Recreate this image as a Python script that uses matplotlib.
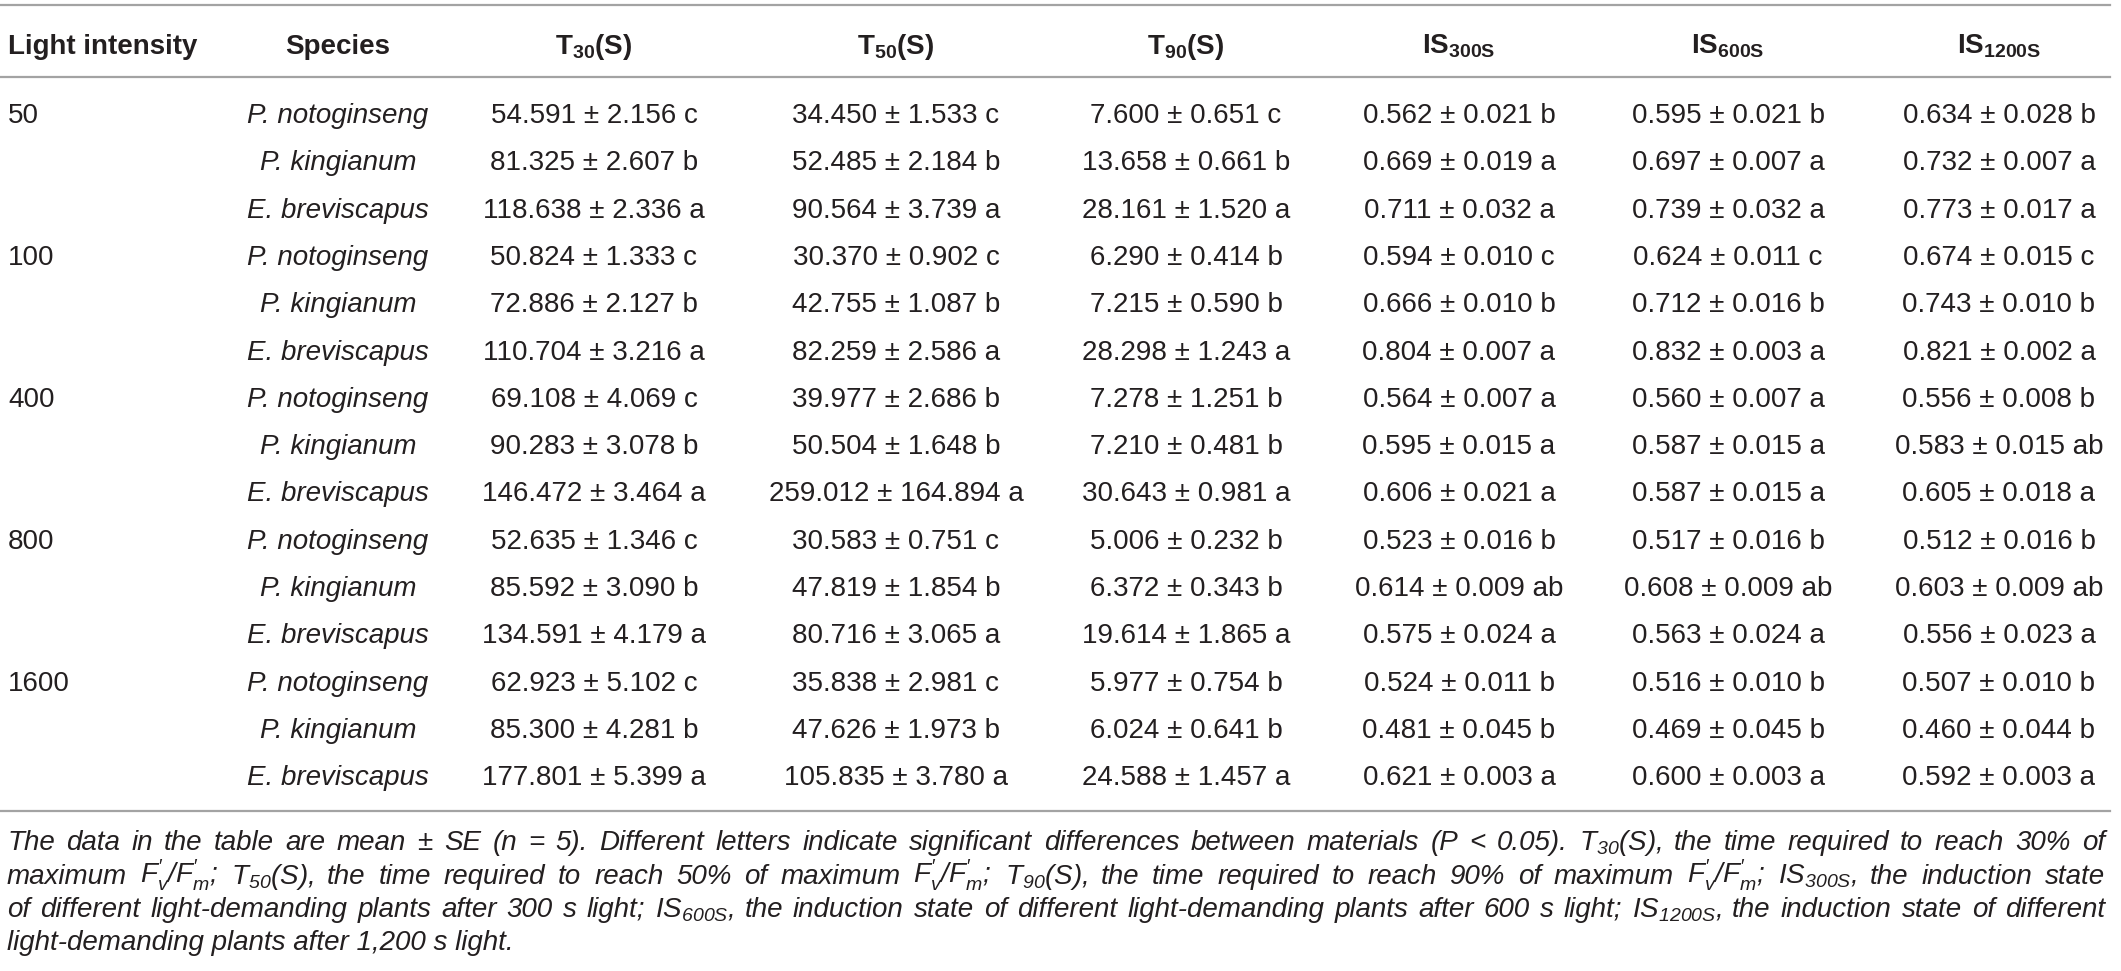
import matplotlib
matplotlib.use('Agg')
import matplotlib.pyplot as plt

plt.rcParams['font.family'] = ['Liberation Sans', 'DejaVu Sans']
plt.rcParams['mathtext.fontset'] = 'custom'
plt.rcParams['mathtext.rm'] = 'Liberation Sans'
plt.rcParams['mathtext.it'] = 'Liberation Sans:italic'
plt.rcParams['mathtext.bf'] = 'Liberation Sans:bold'
plt.rcParams['mathtext.default'] = 'regular'

# ---------------- data ----------------
headers = ['Light intensity', 'Species', 'T$_{30}$(S)', 'T$_{50}$(S)', 'T$_{90}$(S)',
           'IS$_{300S}$', 'IS$_{600S}$', 'IS$_{1200S}$']
light_levels = ['50', '100', '400', '800', '1600']
species = ['P. notoginseng', 'P. kingianum', 'E. breviscapus']

t30_mean = [54.591, 81.325, 118.638, 50.824, 72.886, 110.704, 69.108, 90.283, 146.472,
            52.635, 85.592, 134.591, 62.923, 85.300, 177.801]
t30_se = [2.156, 2.607, 2.336, 1.333, 2.127, 3.216, 4.069, 3.078, 3.464,
          1.346, 3.090, 4.179, 5.102, 4.281, 5.399]
t30_sig = ['c', 'b', 'a', 'c', 'b', 'a', 'c', 'b', 'a', 'c', 'b', 'a', 'c', 'b', 'a']

t50_mean = [34.450, 52.485, 90.564, 30.370, 42.755, 82.259, 39.977, 50.504, 259.012,
            30.583, 47.819, 80.716, 35.838, 47.626, 105.835]
t50_se = [1.533, 2.184, 3.739, 0.902, 1.087, 2.586, 2.686, 1.648, 164.894,
          0.751, 1.854, 3.065, 2.981, 1.973, 3.780]
t50_sig = ['c', 'b', 'a', 'c', 'b', 'a', 'b', 'b', 'a', 'c', 'b', 'a', 'c', 'b', 'a']

t90_mean = [7.600, 13.658, 28.161, 6.290, 7.215, 28.298, 7.278, 7.210, 30.643,
            5.006, 6.372, 19.614, 5.977, 6.024, 24.588]
t90_se = [0.651, 0.661, 1.520, 0.414, 0.590, 1.243, 1.251, 0.481, 0.981,
          0.232, 0.343, 1.865, 0.754, 0.641, 1.457]
t90_sig = ['c', 'b', 'a', 'b', 'b', 'a', 'b', 'b', 'a', 'b', 'b', 'a', 'b', 'b', 'a']

is300_mean = [0.562, 0.669, 0.711, 0.594, 0.666, 0.804, 0.564, 0.595, 0.606,
              0.523, 0.614, 0.575, 0.524, 0.481, 0.621]
is300_se = [0.021, 0.019, 0.032, 0.010, 0.010, 0.007, 0.007, 0.015, 0.021,
            0.016, 0.009, 0.024, 0.011, 0.045, 0.003]
is300_sig = ['b', 'a', 'a', 'c', 'b', 'a', 'a', 'a', 'a', 'b', 'ab', 'a', 'b', 'b', 'a']

is600_mean = [0.595, 0.697, 0.739, 0.624, 0.712, 0.832, 0.560, 0.587, 0.587,
              0.517, 0.608, 0.563, 0.516, 0.469, 0.600]
is600_se = [0.021, 0.007, 0.032, 0.011, 0.016, 0.003, 0.007, 0.015, 0.015,
            0.016, 0.009, 0.024, 0.010, 0.045, 0.003]
is600_sig = ['b', 'a', 'a', 'c', 'b', 'a', 'a', 'a', 'a', 'b', 'ab', 'a', 'b', 'b', 'a']

is1200_mean = [0.634, 0.732, 0.773, 0.674, 0.743, 0.821, 0.556, 0.583, 0.605,
               0.512, 0.603, 0.556, 0.507, 0.460, 0.592]
is1200_se = [0.028, 0.007, 0.017, 0.015, 0.010, 0.002, 0.008, 0.015, 0.018,
             0.016, 0.009, 0.023, 0.010, 0.044, 0.003]
is1200_sig = ['b', 'a', 'a', 'c', 'b', 'a', 'b', 'ab', 'a', 'b', 'ab', 'a', 'b', 'b', 'a']

footnote_lines = [
    "The data in the table are mean ± SE (n = 5). Different letters indicate significant differences between materials (P < 0.05). T$_{30}$(S), the time required to reach 30% of",
    "maximum $F_{v}^{\\prime}/F_{m}^{\\prime}$; T$_{50}$(S), the time required to reach 50% of maximum $F_{v}^{\\prime}/F_{m}^{\\prime}$; T$_{90}$(S), the time required to reach 90% of maximum $F_{v}^{\\prime}/F_{m}^{\\prime}$; IS$_{300S}$, the induction state",
    "of different light-demanding plants after 300 s light; IS$_{600S}$, the induction state of different light-demanding plants after 600 s light; IS$_{1200S}$, the induction state of different",
    "light-demanding plants after 1,200 s light.",
]

# ---------------- layout ----------------
W, H = 2121, 971
TXT = '#231f20'
RULE = '#a3a3a3'
fig = plt.figure(figsize=(W / 100, H / 100), dpi=100)
ax = fig.add_axes([0, 0, 1, 1])
ax.set_xlim(0, W)
ax.set_ylim(H, 0)
ax.axis('off')

col_x = [8, 338, 594, 896, 1186, 1459, 1728, 1999]
fs = 20
header_base = 54
row_base0 = 123
row_step = 47.3

for i, h in enumerate(headers):
    ha = 'left' if i == 0 else 'center'
    ax.text(col_x[i], header_base, h, ha=ha, va='baseline', fontsize=fs,
            fontweight='bold', color=TXT)

columns = [(t30_mean, t30_se, t30_sig), (t50_mean, t50_se, t50_sig),
           (t90_mean, t90_se, t90_sig), (is300_mean, is300_se, is300_sig),
           (is600_mean, is600_se, is600_sig), (is1200_mean, is1200_se, is1200_sig)]

n_sp = len(species)
for r in range(len(light_levels) * n_sp):
    yb = row_base0 + r * row_step
    if r % n_sp == 0:
        ax.text(col_x[0], yb, light_levels[r // n_sp], ha='left', va='baseline',
                fontsize=fs, color=TXT)
    ax.text(col_x[1], yb, species[r % n_sp], ha='center', va='baseline',
            fontsize=fs, style='italic', color=TXT)
    for c, (m, s, g) in enumerate(columns):
        ax.text(col_x[c + 2], yb, f"{m[r]:.3f} ± {s[r]:.3f} {g[r]}", ha='center',
                va='baseline', fontsize=fs, color=TXT)

x0, x1 = 0, 2110
for y in (5, 77, 811):
    ax.axhline(y, xmin=x0 / W, xmax=x1 / W, color=RULE, lw=1.6)

# ---------------- footnote (justified) ----------------
fig.canvas.draw()
renderer = fig.canvas.get_renderer()


def tw(s, size):
    t = ax.text(0, 500, s, fontsize=size, style='italic')
    w = t.get_window_extent(renderer).width
    t.remove()
    return w


left, right = 7, 2105
avail = right - left
base = 20
sp = tw('a a', base) - tw('aa', base)
nat = []
for line in footnote_lines[:-1]:
    words = line.split(' ')
    nat.append(sum(tw(w, base) for w in words) + sp * (len(words) - 1) * 1.05)
fsz = base * min(1.0, avail / max(nat))

foot_base = [850, 883.5, 917, 950.5]
for li, line in enumerate(footnote_lines):
    yb = foot_base[li]
    if li == len(footnote_lines) - 1:
        ax.text(left, yb, line, ha='left', va='baseline', fontsize=fsz,
                style='italic', color=TXT)
        continue
    words = line.split(' ')
    widths = [tw(w, fsz) for w in words]
    gap = (avail - sum(widths)) / (len(words) - 1)
    x = left
    for w, wd in zip(words, widths):
        ax.text(x, yb, w, ha='left', va='baseline', fontsize=fsz,
                style='italic', color=TXT)
        x += wd + gap

fig.savefig('out.png', dpi=100, facecolor='white')
